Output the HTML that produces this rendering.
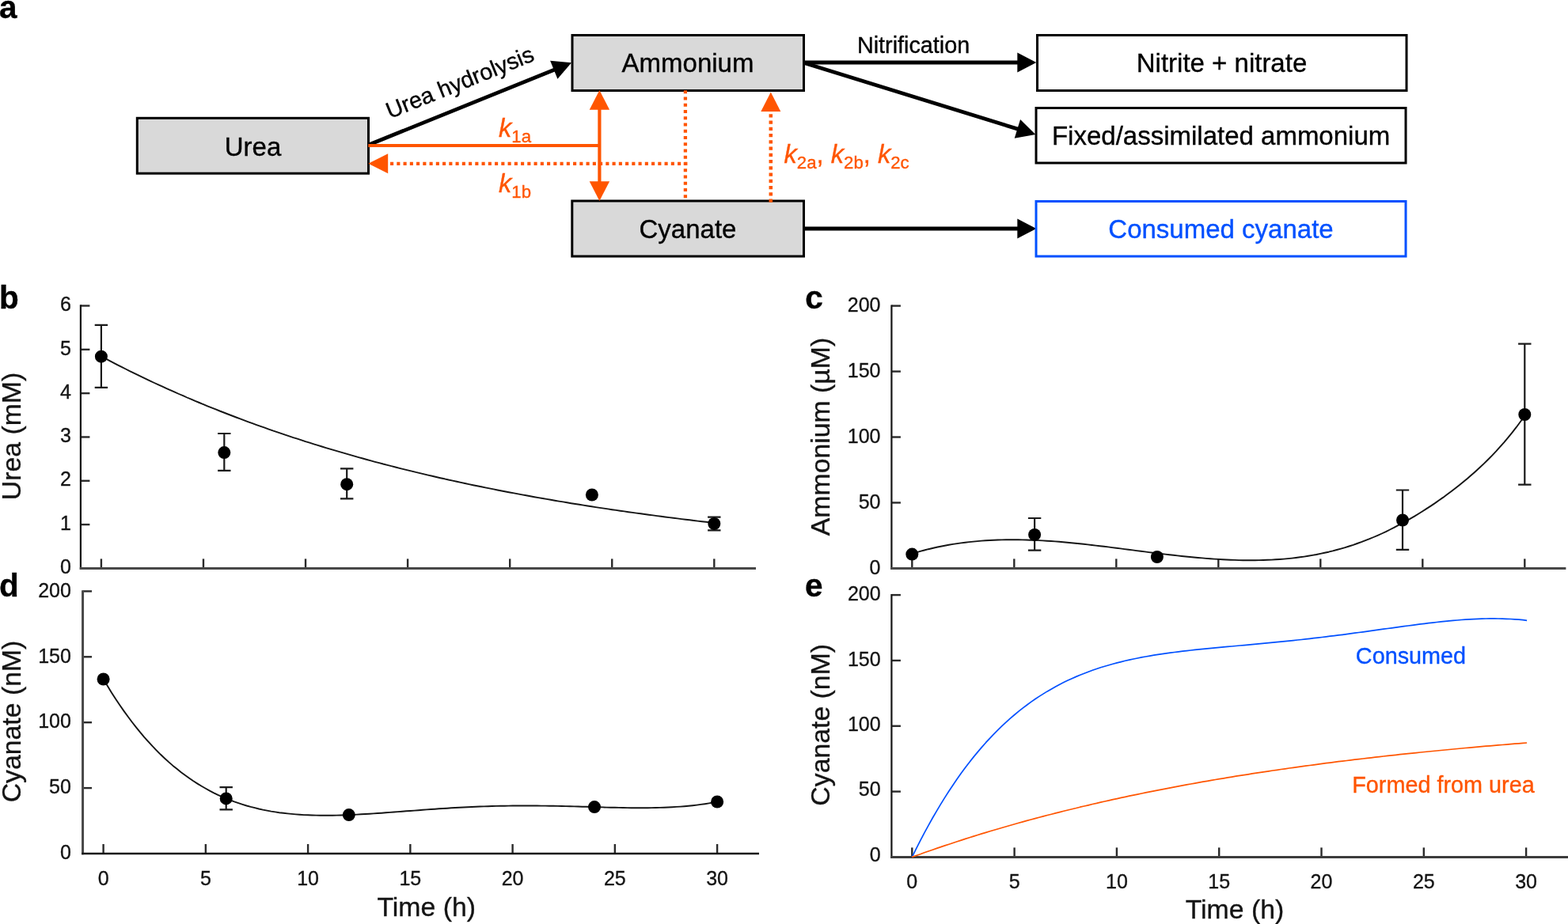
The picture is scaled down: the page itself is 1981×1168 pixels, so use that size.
<!DOCTYPE html>
<html lang="en">
<head>
<meta charset="utf-8">
<title>Cyanate, urea and ammonium dynamics</title>
<style>
html,body{margin:0;padding:0;background:#fff;}
body{width:1981px;height:1168px;overflow:hidden;}
svg{display:block;font-family:"Liberation Sans", sans-serif;}
</style>
</head>
<body>
<svg width="1981" height="1168" viewBox="0 0 1981 1168">
<rect width="1981" height="1168" fill="#fff"/>
<line x1="466.00" y1="183.00" x2="701.98" y2="87.41" stroke="#000" stroke-width="4.8"/>
<polygon points="722.00,79.30 704.41,99.80 695.10,76.82" fill="#000"/>
<line x1="1016.00" y1="79.00" x2="1287.70" y2="79.00" stroke="#000" stroke-width="4.8"/>
<polygon points="1309.30,79.00 1285.30,91.40 1285.30,66.60" fill="#000"/>
<line x1="1016.00" y1="79.50" x2="1287.67" y2="163.61" stroke="#000" stroke-width="4.8"/>
<polygon points="1308.30,170.00 1281.71,174.75 1289.04,151.06" fill="#000"/>
<line x1="1016.00" y1="289.00" x2="1287.70" y2="289.00" stroke="#000" stroke-width="4.8"/>
<polygon points="1309.30,289.00 1285.30,301.40 1285.30,276.60" fill="#000"/>
<rect x="173.3" y="149.3" width="292.20" height="69.90" fill="#d9d9d9" stroke="#000" stroke-width="3"/>
<rect x="723" y="44.5" width="292.50" height="70.00" fill="#d9d9d9" stroke="#000" stroke-width="3"/>
<rect x="722.8" y="254" width="292.70" height="70.00" fill="#d9d9d9" stroke="#000" stroke-width="3"/>
<rect x="1310.5" y="44.5" width="466.50" height="70.00" fill="#fff" stroke="#000" stroke-width="3"/>
<rect x="1309" y="136.5" width="467.00" height="69.50" fill="#fff" stroke="#000" stroke-width="3"/>
<rect x="1309" y="254.5" width="467.00" height="69.50" fill="#fff" stroke="#0050ff" stroke-width="3"/>
<line x1="465.3" y1="184" x2="757.4" y2="184" stroke="#ff5500" stroke-width="4.1"/>
<line x1="757.40" y1="231.68" x2="757.40" y2="136.32" stroke="#ff5500" stroke-width="4.2"/>
<polygon points="757.40,114.00 770.10,138.80 744.70,138.80" fill="#ff5500"/>
<polygon points="757.40,254.00 770.10,229.20 744.70,229.20" fill="#ff5500"/>
<line x1="868.4" y1="206.8" x2="489" y2="206.8" stroke="#ff5500" stroke-width="4.3" stroke-dasharray="4.1 4.15"/>
<polygon points="465.3,206.8 490.2,194.3 490.2,219.3" fill="#ff5500"/>
<line x1="865.9" y1="114.2" x2="865.9" y2="250.4" stroke="#ff5500" stroke-width="4.3" stroke-dasharray="4.1 4.15"/>
<line x1="973.8" y1="255.7" x2="973.8" y2="144.2" stroke="#ff5500" stroke-width="4.5" stroke-dasharray="4.1 4.15"/>
<polygon points="973.8,116.6 986.3,140.9 961.3,140.9" fill="#ff5500"/>
<text x="319.5" y="196.5" font-size="33" text-anchor="middle" fill="#000" stroke="#000" stroke-width="0.35" >Urea</text>
<text x="869" y="91" font-size="33" text-anchor="middle" fill="#000" stroke="#000" stroke-width="0.35" >Ammonium</text>
<text x="869" y="301" font-size="33" text-anchor="middle" fill="#000" stroke="#000" stroke-width="0.35" >Cyanate</text>
<text x="1543.5" y="91" font-size="33" text-anchor="middle" fill="#000" stroke="#000" stroke-width="0.35" >Nitrite + nitrate</text>
<text x="1542.6" y="183" font-size="33" text-anchor="middle" fill="#000" stroke="#000" stroke-width="0.35" >Fixed/assimilated ammonium</text>
<text x="1542.5" y="301" font-size="33" text-anchor="middle" fill="#0050ff" stroke="#0050ff" stroke-width="0.35" >Consumed cyanate</text>
<text x="1154.1" y="66.5" font-size="28.8" text-anchor="middle" fill="#000" stroke="#000" stroke-width="0.35" >Nitrification</text>
<text font-size="28.8" text-anchor="middle" stroke="#000" stroke-width="0.35" transform="translate(584.5,113.2) rotate(-21.9)">Urea hydrolysis</text>
<text x="630" y="172.5" font-size="32.7" fill="#ff5500" stroke="#ff5500" stroke-width="0.35" text-anchor="start"><tspan font-style="italic">k</tspan><tspan font-size="22.2" dy="7.4">1a</tspan><tspan dy="-7.4"></tspan></text>
<text x="630" y="242.5" font-size="32.7" fill="#ff5500" stroke="#ff5500" stroke-width="0.35" text-anchor="start"><tspan font-style="italic">k</tspan><tspan font-size="22.2" dy="7.4">1b</tspan><tspan dy="-7.4"></tspan></text>
<text x="990.5" y="205.9" font-size="32.7" fill="#ff5500" stroke="#ff5500" stroke-width="0.35" text-anchor="start"><tspan font-style="italic">k</tspan><tspan font-size="22.2" dy="7.4">2a</tspan><tspan dy="-7.4">, </tspan><tspan font-style="italic">k</tspan><tspan font-size="22.2" dy="7.4">2b</tspan><tspan dy="-7.4">, </tspan><tspan font-style="italic">k</tspan><tspan font-size="22.2" dy="7.4">2c</tspan><tspan dy="-7.4"></tspan></text>
<text x="-1" y="23" font-size="40.5" text-anchor="start" fill="#000" stroke="#000" stroke-width="0.35" font-weight="bold" >a</text>
<text x="-1" y="389.7" font-size="40.5" text-anchor="start" fill="#000" stroke="#000" stroke-width="0.35" font-weight="bold" >b</text>
<text x="1017.3" y="390" font-size="40.5" text-anchor="start" fill="#000" stroke="#000" stroke-width="0.35" font-weight="bold" >c</text>
<text x="-1" y="753.8" font-size="40.5" text-anchor="start" fill="#000" stroke="#000" stroke-width="0.35" font-weight="bold" >d</text>
<text x="1017" y="753.6" font-size="40.5" text-anchor="start" fill="#000" stroke="#000" stroke-width="0.35" font-weight="bold" >e</text>
<text x="89.8" y="725.10" font-size="25.0" text-anchor="end" fill="#141414" stroke="#141414" stroke-width="0.35" >0</text>
<line x1="101.9" y1="663.08" x2="113.40" y2="663.08" stroke="#2a2a2a" stroke-width="2.4"/>
<text x="89.8" y="669.78" font-size="25.0" text-anchor="end" fill="#141414" stroke="#141414" stroke-width="0.35" >1</text>
<line x1="101.9" y1="607.77" x2="113.40" y2="607.77" stroke="#2a2a2a" stroke-width="2.4"/>
<text x="89.8" y="614.47" font-size="25.0" text-anchor="end" fill="#141414" stroke="#141414" stroke-width="0.35" >2</text>
<line x1="101.9" y1="552.45" x2="113.40" y2="552.45" stroke="#2a2a2a" stroke-width="2.4"/>
<text x="89.8" y="559.15" font-size="25.0" text-anchor="end" fill="#141414" stroke="#141414" stroke-width="0.35" >3</text>
<line x1="101.9" y1="497.13" x2="113.40" y2="497.13" stroke="#2a2a2a" stroke-width="2.4"/>
<text x="89.8" y="503.83" font-size="25.0" text-anchor="end" fill="#141414" stroke="#141414" stroke-width="0.35" >4</text>
<line x1="101.9" y1="441.82" x2="113.40" y2="441.82" stroke="#2a2a2a" stroke-width="2.4"/>
<text x="89.8" y="448.52" font-size="25.0" text-anchor="end" fill="#141414" stroke="#141414" stroke-width="0.35" >5</text>
<line x1="101.9" y1="386.50" x2="113.40" y2="386.50" stroke="#2a2a2a" stroke-width="2.4"/>
<text x="89.8" y="393.20" font-size="25.0" text-anchor="end" fill="#141414" stroke="#141414" stroke-width="0.35" >6</text>
<line x1="127.90" y1="718.4" x2="127.90" y2="706.40" stroke="#2a2a2a" stroke-width="2.4"/>
<line x1="256.97" y1="718.4" x2="256.97" y2="706.40" stroke="#2a2a2a" stroke-width="2.4"/>
<line x1="386.03" y1="718.4" x2="386.03" y2="706.40" stroke="#2a2a2a" stroke-width="2.4"/>
<line x1="515.10" y1="718.4" x2="515.10" y2="706.40" stroke="#2a2a2a" stroke-width="2.4"/>
<line x1="644.17" y1="718.4" x2="644.17" y2="706.40" stroke="#2a2a2a" stroke-width="2.4"/>
<line x1="773.23" y1="718.4" x2="773.23" y2="706.40" stroke="#2a2a2a" stroke-width="2.4"/>
<line x1="902.30" y1="718.4" x2="902.30" y2="706.40" stroke="#2a2a2a" stroke-width="2.4"/>
<line x1="101.9" y1="385.30" x2="101.9" y2="719.90" stroke="#111" stroke-width="2.2"/>
<line x1="100.80" y1="718.4" x2="955" y2="718.4" stroke="#484848" stroke-width="3.0"/>
<text font-size="33.8" text-anchor="middle" fill="#141414" stroke="#141414" stroke-width="0.35" transform="translate(25.9,551.4) rotate(-90)">Urea (mM)</text>
<polyline points="127.9,450.5 133.1,453.2 138.2,455.9 143.4,458.6 148.6,461.3 153.7,463.9 158.9,466.5 164.0,469.1 169.2,471.6 174.4,474.1 179.5,476.6 184.7,479.1 189.9,481.6 195.0,484.0 200.2,486.4 205.3,488.7 210.5,491.1 215.7,493.4 220.8,495.7 226.0,498.0 231.2,500.2 236.3,502.5 241.5,504.7 246.6,506.9 251.8,509.0 257.0,511.2 262.1,513.3 267.3,515.4 272.5,517.4 277.6,519.5 282.8,521.5 287.9,523.5 293.1,525.5 298.3,527.5 303.4,529.4 308.6,531.4 313.8,533.3 318.9,535.2 324.1,537.1 329.2,538.9 334.4,540.7 339.6,542.6 344.7,544.4 349.9,546.1 355.1,547.9 360.2,549.6 365.4,551.4 370.5,553.1 375.7,554.7 380.9,556.4 386.0,558.1 391.2,559.7 396.4,561.3 401.5,562.9 406.7,564.5 411.8,566.1 417.0,567.7 422.2,569.2 427.3,570.7 432.5,572.2 437.7,573.7 442.8,575.2 448.0,576.7 453.1,578.1 458.3,579.5 463.5,581.0 468.6,582.4 473.8,583.8 479.0,585.1 484.1,586.5 489.3,587.8 494.4,589.2 499.6,590.5 504.8,591.8 509.9,593.1 515.1,594.4 520.3,595.6 525.4,596.9 530.6,598.1 535.8,599.4 540.9,600.6 546.1,601.8 551.2,603.0 556.4,604.2 561.6,605.3 566.7,606.5 571.9,607.6 577.1,608.8 582.2,609.9 587.4,611.0 592.5,612.1 597.7,613.2 602.9,614.2 608.0,615.3 613.2,616.4 618.4,617.4 623.5,618.4 628.7,619.5 633.8,620.5 639.0,621.5 644.2,622.5 649.3,623.4 654.5,624.4 659.7,625.4 664.8,626.3 670.0,627.3 675.1,628.2 680.3,629.1 685.5,630.0 690.6,630.9 695.8,631.8 701.0,632.7 706.1,633.6 711.3,634.4 716.4,635.3 721.6,636.2 726.8,637.0 731.9,637.8 737.1,638.6 742.3,639.5 747.4,640.3 752.6,641.1 757.7,641.9 762.9,642.6 768.1,643.4 773.2,644.2 778.4,644.9 783.6,645.7 788.7,646.4 793.9,647.2 799.0,647.9 804.2,648.6 809.4,649.3 814.5,650.0 819.7,650.7 824.9,651.4 830.0,652.1 835.2,652.8 840.3,653.5 845.5,654.1 850.7,654.8 855.8,655.4 861.0,656.1 866.2,656.7 871.3,657.3 876.5,658.0 881.6,658.6 886.8,659.2 892.0,659.8 897.1,660.4 902.3,661.0" fill="none" stroke="#141414" stroke-width="1.9" stroke-linejoin="round"/>
<path d="M127.9,410.8 V489.9 M119.7,410.8 h16.4 M119.7,489.9 h16.4" fill="none" stroke="#1a1a1a" stroke-width="2.2"/>
<circle cx="127.9" cy="450.7" r="8" fill="#000"/>
<path d="M283.3,548.0 V594.8 M275.1,548.0 h16.4 M275.1,594.8 h16.4" fill="none" stroke="#1a1a1a" stroke-width="2.2"/>
<circle cx="283.3" cy="572.1" r="8" fill="#000"/>
<path d="M438.2,592.3 V630.4 M430.0,592.3 h16.4 M430.0,630.4 h16.4" fill="none" stroke="#1a1a1a" stroke-width="2.2"/>
<circle cx="438.2" cy="612.2" r="8" fill="#000"/>
<circle cx="747.9" cy="625.5" r="8" fill="#000"/>
<path d="M902.3,653.7 V670.3 M894.1,653.7 h16.4 M894.1,670.3 h16.4" fill="none" stroke="#1a1a1a" stroke-width="2.2"/>
<circle cx="902.3" cy="662.0" r="8" fill="#000"/>
<text x="1112.5" y="725.60" font-size="25.0" text-anchor="end" fill="#141414" stroke="#141414" stroke-width="0.35" >0</text>
<line x1="1126.4" y1="635.45" x2="1137.90" y2="635.45" stroke="#2a2a2a" stroke-width="2.4"/>
<text x="1112.5" y="642.65" font-size="25.0" text-anchor="end" fill="#141414" stroke="#141414" stroke-width="0.35" >50</text>
<line x1="1126.4" y1="552.50" x2="1137.90" y2="552.50" stroke="#2a2a2a" stroke-width="2.4"/>
<text x="1112.5" y="559.70" font-size="25.0" text-anchor="end" fill="#141414" stroke="#141414" stroke-width="0.35" >100</text>
<line x1="1126.4" y1="469.55" x2="1137.90" y2="469.55" stroke="#2a2a2a" stroke-width="2.4"/>
<text x="1112.5" y="476.75" font-size="25.0" text-anchor="end" fill="#141414" stroke="#141414" stroke-width="0.35" >150</text>
<line x1="1126.4" y1="386.60" x2="1137.90" y2="386.60" stroke="#2a2a2a" stroke-width="2.4"/>
<text x="1112.5" y="393.80" font-size="25.0" text-anchor="end" fill="#141414" stroke="#141414" stroke-width="0.35" >200</text>
<line x1="1152.30" y1="718.4" x2="1152.30" y2="706.40" stroke="#2a2a2a" stroke-width="2.4"/>
<line x1="1281.30" y1="718.4" x2="1281.30" y2="706.40" stroke="#2a2a2a" stroke-width="2.4"/>
<line x1="1410.30" y1="718.4" x2="1410.30" y2="706.40" stroke="#2a2a2a" stroke-width="2.4"/>
<line x1="1539.30" y1="718.4" x2="1539.30" y2="706.40" stroke="#2a2a2a" stroke-width="2.4"/>
<line x1="1668.30" y1="718.4" x2="1668.30" y2="706.40" stroke="#2a2a2a" stroke-width="2.4"/>
<line x1="1797.30" y1="718.4" x2="1797.30" y2="706.40" stroke="#2a2a2a" stroke-width="2.4"/>
<line x1="1926.30" y1="718.4" x2="1926.30" y2="706.40" stroke="#2a2a2a" stroke-width="2.4"/>
<line x1="1126.4" y1="385.40" x2="1126.4" y2="719.90" stroke="#161616" stroke-width="2.2"/>
<line x1="1125.30" y1="718.4" x2="1978.4" y2="718.4" stroke="#484848" stroke-width="3.0"/>
<text font-size="33.8" text-anchor="middle" fill="#141414" stroke="#141414" stroke-width="0.35" transform="translate(1047.7,552) rotate(-90)">Ammonium (µM)</text>
<polyline points="1152.3,699.9 1157.5,698.4 1162.6,696.9 1167.8,695.5 1172.9,694.2 1178.1,693.0 1183.3,691.8 1188.4,690.7 1193.6,689.7 1198.7,688.8 1203.9,687.9 1209.1,687.1 1214.2,686.4 1219.4,685.7 1224.5,685.1 1229.7,684.6 1234.9,684.1 1240.0,683.6 1245.2,683.3 1250.3,683.0 1255.5,682.7 1260.7,682.5 1265.8,682.4 1271.0,682.3 1276.1,682.2 1281.3,682.2 1286.5,682.3 1291.6,682.4 1296.8,682.5 1301.9,682.7 1307.1,682.9 1312.3,683.1 1317.4,683.4 1322.6,683.7 1327.7,684.0 1332.9,684.4 1338.1,684.8 1343.2,685.3 1348.4,685.7 1353.5,686.2 1358.7,686.7 1363.9,687.3 1369.0,687.8 1374.2,688.4 1379.3,689.0 1384.5,689.6 1389.7,690.2 1394.8,690.8 1400.0,691.4 1405.1,692.1 1410.3,692.8 1415.5,693.4 1420.6,694.1 1425.8,694.7 1430.9,695.4 1436.1,696.1 1441.3,696.7 1446.4,697.4 1451.6,698.1 1456.7,698.7 1461.9,699.4 1467.1,700.0 1472.2,700.6 1477.4,701.2 1482.5,701.8 1487.7,702.4 1492.9,703.0 1498.0,703.5 1503.2,704.0 1508.3,704.5 1513.5,705.0 1518.7,705.4 1523.8,705.9 1529.0,706.3 1534.1,706.6 1539.3,706.9 1544.5,707.2 1549.6,707.5 1554.8,707.7 1559.9,707.9 1565.1,708.1 1570.3,708.2 1575.4,708.2 1580.6,708.2 1585.7,708.2 1590.9,708.1 1596.1,708.0 1601.2,707.8 1606.4,707.6 1611.5,707.3 1616.7,707.0 1621.9,706.6 1627.0,706.1 1632.2,705.6 1637.3,705.0 1642.5,704.3 1647.7,703.6 1652.8,702.8 1658.0,701.9 1663.1,701.0 1668.3,699.9 1673.5,698.8 1678.6,697.7 1683.8,696.4 1688.9,695.0 1694.1,693.6 1699.3,692.1 1704.4,690.5 1709.6,688.8 1714.7,687.0 1719.9,685.2 1725.1,683.2 1730.2,681.2 1735.4,679.0 1740.5,676.8 1745.7,674.5 1750.9,672.1 1756.0,669.5 1761.2,666.9 1766.3,664.2 1771.5,661.5 1776.7,658.6 1781.8,655.6 1787.0,652.6 1792.1,649.5 1797.3,646.2 1802.5,642.9 1807.6,639.6 1812.8,636.1 1817.9,632.5 1823.1,628.9 1828.3,625.1 1833.4,621.3 1838.6,617.3 1843.7,613.3 1848.9,609.1 1854.1,604.8 1859.2,600.3 1864.4,595.7 1869.5,591.0 1874.7,586.1 1879.9,581.0 1885.0,575.8 1890.2,570.3 1895.3,564.6 1900.5,558.8 1905.7,552.6 1910.8,546.3 1916.0,539.7 1921.1,532.8 1926.3,525.7" fill="none" stroke="#141414" stroke-width="1.9" stroke-linejoin="round"/>
<circle cx="1152.3" cy="700.6" r="8" fill="#000"/>
<path d="M1307.1,655.0 V695.7 M1298.9,655.0 h16.4 M1298.9,695.7 h16.4" fill="none" stroke="#1a1a1a" stroke-width="2.2"/>
<circle cx="1307.1" cy="675.9" r="8" fill="#000"/>
<circle cx="1461.9" cy="704.0" r="8" fill="#000"/>
<path d="M1772.0,619.5 V694.8 M1763.8,619.5 h16.4 M1763.8,694.8 h16.4" fill="none" stroke="#1a1a1a" stroke-width="2.2"/>
<circle cx="1772.0" cy="657.5" r="8" fill="#000"/>
<path d="M1926.3,434.7 V612.6 M1918.1,434.7 h16.4 M1918.1,612.6 h16.4" fill="none" stroke="#1a1a1a" stroke-width="2.2"/>
<circle cx="1926.3" cy="524.0" r="8" fill="#000"/>
<text x="89.9" y="1086.20" font-size="25.0" text-anchor="end" fill="#141414" stroke="#141414" stroke-width="0.35" >0</text>
<line x1="104.55" y1="996.10" x2="116.05" y2="996.10" stroke="#2a2a2a" stroke-width="2.4"/>
<text x="89.9" y="1003.30" font-size="25.0" text-anchor="end" fill="#141414" stroke="#141414" stroke-width="0.35" >50</text>
<line x1="104.55" y1="913.20" x2="116.05" y2="913.20" stroke="#2a2a2a" stroke-width="2.4"/>
<text x="89.9" y="920.40" font-size="25.0" text-anchor="end" fill="#141414" stroke="#141414" stroke-width="0.35" >100</text>
<line x1="104.55" y1="830.30" x2="116.05" y2="830.30" stroke="#2a2a2a" stroke-width="2.4"/>
<text x="89.9" y="837.50" font-size="25.0" text-anchor="end" fill="#141414" stroke="#141414" stroke-width="0.35" >150</text>
<line x1="104.55" y1="747.40" x2="116.05" y2="747.40" stroke="#2a2a2a" stroke-width="2.4"/>
<text x="89.9" y="754.60" font-size="25.0" text-anchor="end" fill="#141414" stroke="#141414" stroke-width="0.35" >200</text>
<line x1="130.60" y1="1079.0" x2="130.60" y2="1067.00" stroke="#2a2a2a" stroke-width="2.4"/>
<text x="130.60" y="1118.50" font-size="25.0" text-anchor="middle" fill="#141414" stroke="#141414" stroke-width="0.35" >0</text>
<line x1="259.85" y1="1079.0" x2="259.85" y2="1067.00" stroke="#2a2a2a" stroke-width="2.4"/>
<text x="259.85" y="1118.50" font-size="25.0" text-anchor="middle" fill="#141414" stroke="#141414" stroke-width="0.35" >5</text>
<line x1="389.10" y1="1079.0" x2="389.10" y2="1067.00" stroke="#2a2a2a" stroke-width="2.4"/>
<text x="389.10" y="1118.50" font-size="25.0" text-anchor="middle" fill="#141414" stroke="#141414" stroke-width="0.35" >10</text>
<line x1="518.35" y1="1079.0" x2="518.35" y2="1067.00" stroke="#2a2a2a" stroke-width="2.4"/>
<text x="518.35" y="1118.50" font-size="25.0" text-anchor="middle" fill="#141414" stroke="#141414" stroke-width="0.35" >15</text>
<line x1="647.60" y1="1079.0" x2="647.60" y2="1067.00" stroke="#2a2a2a" stroke-width="2.4"/>
<text x="647.60" y="1118.50" font-size="25.0" text-anchor="middle" fill="#141414" stroke="#141414" stroke-width="0.35" >20</text>
<line x1="776.85" y1="1079.0" x2="776.85" y2="1067.00" stroke="#2a2a2a" stroke-width="2.4"/>
<text x="776.85" y="1118.50" font-size="25.0" text-anchor="middle" fill="#141414" stroke="#141414" stroke-width="0.35" >25</text>
<line x1="906.10" y1="1079.0" x2="906.10" y2="1067.00" stroke="#2a2a2a" stroke-width="2.4"/>
<text x="906.10" y="1118.50" font-size="25.0" text-anchor="middle" fill="#141414" stroke="#141414" stroke-width="0.35" >30</text>
<line x1="104.55" y1="746.20" x2="104.55" y2="1080.15" stroke="#484848" stroke-width="3.0"/>
<line x1="103.05" y1="1079.0" x2="959" y2="1079.0" stroke="#161616" stroke-width="2.3"/>
<text font-size="33.8" text-anchor="middle" fill="#141414" stroke="#141414" stroke-width="0.35" transform="translate(25.9,912) rotate(-90)">Cyanate (nM)</text>
<text x="538.7" y="1157.5" font-size="33.8" text-anchor="middle" fill="#141414" stroke="#141414" stroke-width="0.35" >Time (h)</text>
<polyline points="130.6,858.5 135.8,867.1 140.9,875.4 146.1,883.5 151.3,891.2 156.4,898.6 161.6,905.8 166.8,912.7 172.0,919.3 177.1,925.7 182.3,931.8 187.5,937.6 192.6,943.2 197.8,948.6 203.0,953.8 208.2,958.7 213.3,963.4 218.5,967.9 223.7,972.1 228.8,976.2 234.0,980.1 239.2,983.8 244.3,987.3 249.5,990.6 254.7,993.8 259.9,996.8 265.0,999.6 270.2,1002.3 275.4,1004.8 280.5,1007.1 285.7,1009.4 290.9,1011.4 296.0,1013.4 301.2,1015.2 306.4,1016.9 311.6,1018.5 316.7,1019.9 321.9,1021.2 327.1,1022.5 332.2,1023.6 337.4,1024.6 342.6,1025.6 347.7,1026.4 352.9,1027.2 358.1,1027.8 363.2,1028.4 368.4,1028.9 373.6,1029.4 378.8,1029.8 383.9,1030.1 389.1,1030.3 394.3,1030.5 399.4,1030.6 404.6,1030.7 409.8,1030.8 415.0,1030.7 420.1,1030.7 425.3,1030.6 430.5,1030.5 435.6,1030.3 440.8,1030.1 446.0,1029.9 451.1,1029.6 456.3,1029.3 461.5,1029.0 466.6,1028.7 471.8,1028.4 477.0,1028.0 482.2,1027.7 487.3,1027.3 492.5,1026.9 497.7,1026.5 502.8,1026.1 508.0,1025.7 513.2,1025.3 518.4,1025.0 523.5,1024.6 528.7,1024.2 533.9,1023.8 539.0,1023.4 544.2,1023.0 549.4,1022.7 554.5,1022.3 559.7,1022.0 564.9,1021.7 570.1,1021.3 575.2,1021.0 580.4,1020.7 585.6,1020.5 590.7,1020.2 595.9,1020.0 601.1,1019.8 606.2,1019.5 611.4,1019.4 616.6,1019.2 621.8,1019.0 626.9,1018.9 632.1,1018.8 637.3,1018.7 642.4,1018.6 647.6,1018.5 652.8,1018.5 657.9,1018.5 663.1,1018.4 668.3,1018.5 673.5,1018.5 678.6,1018.5 683.8,1018.6 689.0,1018.6 694.1,1018.7 699.3,1018.8 704.5,1018.9 709.6,1019.0 714.8,1019.1 720.0,1019.3 725.2,1019.4 730.3,1019.5 735.5,1019.7 740.7,1019.8 745.8,1020.0 751.0,1020.1 756.2,1020.3 761.3,1020.4 766.5,1020.6 771.7,1020.7 776.9,1020.8 782.0,1020.9 787.2,1021.0 792.4,1021.1 797.5,1021.2 802.7,1021.2 807.9,1021.2 813.0,1021.2 818.2,1021.2 823.4,1021.1 828.6,1021.0 833.7,1020.9 838.9,1020.7 844.1,1020.5 849.2,1020.2 854.4,1019.9 859.6,1019.6 864.7,1019.2 869.9,1018.7 875.1,1018.2 880.3,1017.6 885.4,1016.9 890.6,1016.2 895.8,1015.4 900.9,1014.5 906.1,1013.5" fill="none" stroke="#141414" stroke-width="1.9" stroke-linejoin="round"/>
<circle cx="130.6" cy="858.5" r="8" fill="#000"/>
<path d="M285.7,995.1 V1023.3 M277.5,995.1 h16.4 M277.5,1023.3 h16.4" fill="none" stroke="#1a1a1a" stroke-width="2.2"/>
<circle cx="285.7" cy="1009.4" r="8" fill="#000"/>
<circle cx="440.8" cy="1030.1" r="8" fill="#000"/>
<circle cx="751.0" cy="1020.1" r="8" fill="#000"/>
<circle cx="906.1" cy="1013.5" r="8" fill="#000"/>
<text x="1112.6" y="1089.10" font-size="25.0" text-anchor="end" fill="#141414" stroke="#141414" stroke-width="0.35" >0</text>
<line x1="1126.4" y1="1000.58" x2="1137.90" y2="1000.58" stroke="#2a2a2a" stroke-width="2.4"/>
<text x="1112.6" y="1005.58" font-size="25.0" text-anchor="end" fill="#141414" stroke="#141414" stroke-width="0.35" >50</text>
<line x1="1126.4" y1="917.75" x2="1137.90" y2="917.75" stroke="#2a2a2a" stroke-width="2.4"/>
<text x="1112.6" y="923.95" font-size="25.0" text-anchor="end" fill="#141414" stroke="#141414" stroke-width="0.35" >100</text>
<line x1="1126.4" y1="834.93" x2="1137.90" y2="834.93" stroke="#2a2a2a" stroke-width="2.4"/>
<text x="1112.6" y="842.13" font-size="25.0" text-anchor="end" fill="#141414" stroke="#141414" stroke-width="0.35" >150</text>
<line x1="1126.4" y1="752.10" x2="1137.90" y2="752.10" stroke="#2a2a2a" stroke-width="2.4"/>
<text x="1112.6" y="758.50" font-size="25.0" text-anchor="end" fill="#141414" stroke="#141414" stroke-width="0.35" >200</text>
<line x1="1152.30" y1="1083.4" x2="1152.30" y2="1071.40" stroke="#2a2a2a" stroke-width="2.4"/>
<text x="1152.30" y="1122.90" font-size="25.0" text-anchor="middle" fill="#141414" stroke="#141414" stroke-width="0.35" >0</text>
<line x1="1281.60" y1="1083.4" x2="1281.60" y2="1071.40" stroke="#2a2a2a" stroke-width="2.4"/>
<text x="1281.60" y="1122.90" font-size="25.0" text-anchor="middle" fill="#141414" stroke="#141414" stroke-width="0.35" >5</text>
<line x1="1410.90" y1="1083.4" x2="1410.90" y2="1071.40" stroke="#2a2a2a" stroke-width="2.4"/>
<text x="1410.90" y="1122.90" font-size="25.0" text-anchor="middle" fill="#141414" stroke="#141414" stroke-width="0.35" >10</text>
<line x1="1540.20" y1="1083.4" x2="1540.20" y2="1071.40" stroke="#2a2a2a" stroke-width="2.4"/>
<text x="1540.20" y="1122.90" font-size="25.0" text-anchor="middle" fill="#141414" stroke="#141414" stroke-width="0.35" >15</text>
<line x1="1669.50" y1="1083.4" x2="1669.50" y2="1071.40" stroke="#2a2a2a" stroke-width="2.4"/>
<text x="1669.50" y="1122.90" font-size="25.0" text-anchor="middle" fill="#141414" stroke="#141414" stroke-width="0.35" >20</text>
<line x1="1798.80" y1="1083.4" x2="1798.80" y2="1071.40" stroke="#2a2a2a" stroke-width="2.4"/>
<text x="1798.80" y="1122.90" font-size="25.0" text-anchor="middle" fill="#141414" stroke="#141414" stroke-width="0.35" >25</text>
<line x1="1928.10" y1="1083.4" x2="1928.10" y2="1071.40" stroke="#2a2a2a" stroke-width="2.4"/>
<text x="1928.10" y="1122.90" font-size="25.0" text-anchor="middle" fill="#141414" stroke="#141414" stroke-width="0.35" >30</text>
<line x1="1126.4" y1="750.90" x2="1126.4" y2="1084.90" stroke="#161616" stroke-width="2.2"/>
<line x1="1125.30" y1="1083.4" x2="1981" y2="1083.4" stroke="#3c3c3c" stroke-width="3.0"/>
<text font-size="33.8" text-anchor="middle" fill="#141414" stroke="#141414" stroke-width="0.35" transform="translate(1047.7,916.3) rotate(-90)">Cyanate (nM)</text>
<text x="1560" y="1161" font-size="33.8" text-anchor="middle" fill="#141414" stroke="#141414" stroke-width="0.35" >Time (h)</text>
<polyline points="1152.3,1083.4 1157.5,1072.9 1162.7,1062.7 1167.8,1052.8 1173.0,1043.3 1178.2,1034.0 1183.4,1025.1 1188.6,1016.4 1193.7,1008.1 1198.9,1000.0 1204.1,992.2 1209.3,984.6 1214.4,977.3 1219.6,970.3 1224.8,963.5 1230.0,956.9 1235.2,950.6 1240.3,944.6 1245.5,938.7 1250.7,933.1 1255.9,927.6 1261.1,922.4 1266.2,917.4 1271.4,912.6 1276.6,907.9 1281.8,903.5 1287.0,899.2 1292.1,895.1 1297.3,891.2 1302.5,887.4 1307.7,883.8 1312.8,880.4 1318.0,877.1 1323.2,873.9 1328.4,870.9 1333.6,868.0 1338.7,865.2 1343.9,862.6 1349.1,860.1 1354.3,857.7 1359.5,855.4 1364.6,853.2 1369.8,851.2 1375.0,849.2 1380.2,847.3 1385.4,845.5 1390.5,843.8 1395.7,842.2 1400.9,840.7 1406.1,839.2 1411.2,837.9 1416.4,836.6 1421.6,835.3 1426.8,834.1 1432.0,833.0 1437.1,832.0 1442.3,830.9 1447.5,830.0 1452.7,829.1 1457.9,828.2 1463.0,827.4 1468.2,826.6 1473.4,825.9 1478.6,825.1 1483.7,824.5 1488.9,823.8 1494.1,823.2 1499.3,822.6 1504.5,822.0 1509.6,821.4 1514.8,820.9 1520.0,820.4 1525.2,819.9 1530.4,819.4 1535.5,818.9 1540.7,818.4 1545.9,817.9 1551.1,817.4 1556.3,817.0 1561.4,816.5 1566.6,816.0 1571.8,815.6 1577.0,815.1 1582.1,814.6 1587.3,814.2 1592.5,813.7 1597.7,813.2 1602.9,812.7 1608.0,812.2 1613.2,811.7 1618.4,811.2 1623.6,810.7 1628.8,810.1 1633.9,809.6 1639.1,809.0 1644.3,808.5 1649.5,807.9 1654.7,807.3 1659.8,806.7 1665.0,806.1 1670.2,805.5 1675.4,804.9 1680.5,804.2 1685.7,803.6 1690.9,802.9 1696.1,802.3 1701.3,801.6 1706.4,800.9 1711.6,800.2 1716.8,799.5 1722.0,798.8 1727.2,798.1 1732.3,797.4 1737.5,796.7 1742.7,795.9 1747.9,795.2 1753.1,794.5 1758.2,793.8 1763.4,793.1 1768.6,792.4 1773.8,791.7 1778.9,791.0 1784.1,790.3 1789.3,789.6 1794.5,788.9 1799.7,788.3 1804.8,787.7 1810.0,787.1 1815.2,786.5 1820.4,785.9 1825.6,785.4 1830.7,784.9 1835.9,784.4 1841.1,784.0 1846.3,783.5 1851.5,783.2 1856.6,782.9 1861.8,782.6 1867.0,782.3 1872.2,782.1 1877.3,782.0 1882.5,781.9 1887.7,781.9 1892.9,782.0 1898.1,782.1 1903.2,782.3 1908.4,782.5 1913.6,782.8 1918.8,783.2 1924.0,783.7 1929.1,784.3" fill="none" stroke="#0050ff" stroke-width="1.7" stroke-linejoin="round"/>
<polyline points="1152.3,1083.4 1157.5,1081.5 1162.7,1079.7 1167.8,1077.8 1173.0,1076.0 1178.2,1074.2 1183.4,1072.4 1188.6,1070.6 1193.7,1068.9 1198.9,1067.2 1204.1,1065.5 1209.3,1063.8 1214.4,1062.1 1219.6,1060.4 1224.8,1058.8 1230.0,1057.1 1235.2,1055.5 1240.3,1053.9 1245.5,1052.4 1250.7,1050.8 1255.9,1049.3 1261.1,1047.7 1266.2,1046.2 1271.4,1044.7 1276.6,1043.2 1281.8,1041.8 1287.0,1040.3 1292.1,1038.9 1297.3,1037.4 1302.5,1036.0 1307.7,1034.6 1312.8,1033.3 1318.0,1031.9 1323.2,1030.5 1328.4,1029.2 1333.6,1027.9 1338.7,1026.6 1343.9,1025.3 1349.1,1024.0 1354.3,1022.7 1359.5,1021.5 1364.6,1020.2 1369.8,1019.0 1375.0,1017.8 1380.2,1016.5 1385.4,1015.4 1390.5,1014.2 1395.7,1013.0 1400.9,1011.8 1406.1,1010.7 1411.2,1009.6 1416.4,1008.4 1421.6,1007.3 1426.8,1006.2 1432.0,1005.1 1437.1,1004.1 1442.3,1003.0 1447.5,1001.9 1452.7,1000.9 1457.9,999.8 1463.0,998.8 1468.2,997.8 1473.4,996.8 1478.6,995.8 1483.7,994.8 1488.9,993.9 1494.1,992.9 1499.3,991.9 1504.5,991.0 1509.6,990.1 1514.8,989.1 1520.0,988.2 1525.2,987.3 1530.4,986.4 1535.5,985.5 1540.7,984.7 1545.9,983.8 1551.1,982.9 1556.3,982.1 1561.4,981.2 1566.6,980.4 1571.8,979.6 1577.0,978.8 1582.1,977.9 1587.3,977.1 1592.5,976.4 1597.7,975.6 1602.9,974.8 1608.0,974.0 1613.2,973.3 1618.4,972.5 1623.6,971.8 1628.8,971.0 1633.9,970.3 1639.1,969.6 1644.3,968.9 1649.5,968.2 1654.7,967.5 1659.8,966.8 1665.0,966.1 1670.2,965.4 1675.4,964.7 1680.5,964.1 1685.7,963.4 1690.9,962.7 1696.1,962.1 1701.3,961.5 1706.4,960.8 1711.6,960.2 1716.8,959.6 1722.0,959.0 1727.2,958.4 1732.3,957.8 1737.5,957.2 1742.7,956.6 1747.9,956.0 1753.1,955.4 1758.2,954.9 1763.4,954.3 1768.6,953.7 1773.8,953.2 1778.9,952.6 1784.1,952.1 1789.3,951.6 1794.5,951.0 1799.7,950.5 1804.8,950.0 1810.0,949.5 1815.2,949.0 1820.4,948.5 1825.6,948.0 1830.7,947.5 1835.9,947.0 1841.1,946.5 1846.3,946.0 1851.5,945.5 1856.6,945.1 1861.8,944.6 1867.0,944.1 1872.2,943.7 1877.3,943.2 1882.5,942.8 1887.7,942.4 1892.9,941.9 1898.1,941.5 1903.2,941.1 1908.4,940.6 1913.6,940.2 1918.8,939.8 1924.0,939.4 1929.1,939.0" fill="none" stroke="#ff5500" stroke-width="1.7" stroke-linejoin="round"/>
<text x="1782.5" y="838.5" font-size="28.8" text-anchor="middle" fill="#0050ff" stroke="#0050ff" stroke-width="0.35" >Consumed</text>
<text x="1823.5" y="1001.5" font-size="28.8" text-anchor="middle" fill="#ff5500" stroke="#ff5500" stroke-width="0.35" >Formed from urea</text>
</svg>
</body>
</html>
